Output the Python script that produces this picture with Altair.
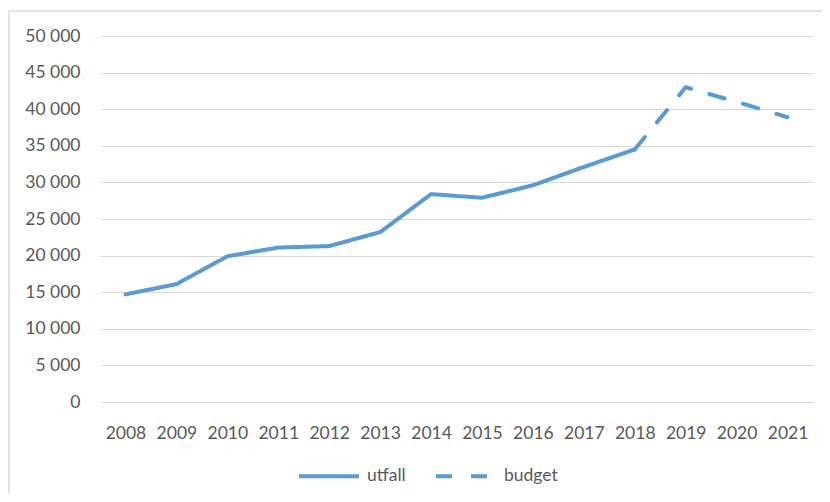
import altair as alt
import pandas as pd

years = [str(y) for y in range(2008, 2022)]
utfall_years = ["2008", "2009", "2010", "2011", "2012", "2013", "2014", "2015", "2016", "2017", "2018"]
utfall = [14700, 16100, 19900, 21100, 21300, 23200, 28400, 27900, 29600, 32100, 34500]
budget_years = ["2018", "2019", "2020", "2021"]
budget = [34500, 43000, 41000, 38900]
series = ["utfall", "budget"]
y_ticks = [0, 5000, 10000, 15000, 20000, 25000, 30000, 35000, 40000, 45000, 50000]

rows = [{"year": y, "value": v, "serie": "utfall"} for y, v in zip(utfall_years, utfall)]
rows += [{"year": y, "value": v, "serie": "budget"} for y, v in zip(budget_years, budget)]
df = pd.DataFrame(rows)

BLUE = "#5B9BD5"
GRID = "#D9D9D9"
TXT = "#595959"
FONT = "Lato"
FS = 17.5

legend_cfg = dict(title=None, orient="none", legendX=197, legendY=408,
                  direction="horizontal", symbolType="stroke", symbolSize=3600,
                  symbolStrokeWidth=4, labelFontSize=FS, labelColor=TXT,
                  labelFont=FONT, labelOffset=6, columnPadding=22)

line = alt.Chart(df).mark_line(strokeWidth=4, strokeCap="round", strokeJoin="round").encode(
    x=alt.X("year:O", scale=alt.Scale(domain=years, type="point", padding=0.5),
            axis=alt.Axis(title=None, labelAngle=0, grid=False, domain=False, ticks=False,
                          labelPadding=22, labelFontSize=FS, labelColor=TXT, labelFont=FONT)),
    y=alt.Y("value:Q", scale=alt.Scale(domain=[0, 50000], nice=False),
            axis=alt.Axis(title=None, values=y_ticks, grid=True, gridColor=GRID, gridWidth=1,
                          domain=False, ticks=False, labelPadding=20, labelFontSize=FS,
                          labelColor=TXT, labelFont=FONT,
                          labelExpr="datum.value >= 1000 ? floor(datum.value/1000) + ' 000' : '0'")),
    color=alt.Color("serie:N", scale=alt.Scale(domain=series, range=[BLUE, BLUE]),
                    legend=alt.Legend(**legend_cfg)),
    strokeDash=alt.StrokeDash("serie:N", scale=alt.Scale(domain=series, range=[[1, 0], [16, 19]]),
                              legend=alt.Legend(**legend_cfg)),
)

frame = pd.DataFrame({"b": [1]})
top_edge = alt.Chart(frame).mark_rule(stroke=GRID, strokeWidth=1.5).encode(
    x=alt.value(-91), x2=alt.value(760), y=alt.value(-25)
)
left_edge = alt.Chart(frame).mark_rule(stroke=GRID, strokeWidth=1.5).encode(
    x=alt.value(-91), y=alt.value(-25), y2=alt.value(600)
)

chart = alt.layer(top_edge, left_edge, line).properties(
    width=713, height=366,
    autosize=alt.AutoSizeParams(type="none"),
    padding={"left": 92, "top": 28, "right": 9, "bottom": 92},
).configure(background="transparent").configure_view(stroke=None, strokeWidth=0)

chart.save("out.html", embed_options={"renderer": "svg", "actions": False})
